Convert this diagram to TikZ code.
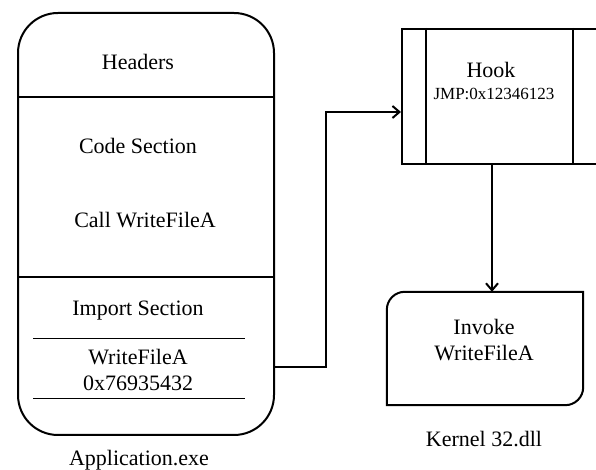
\documentclass[tikz,border=0pt]{standalone}
\usepackage{fontspec}
\setmainfont{Liberation Serif}
\usetikzlibrary{arrows.meta}

\tikzset{
  box/.style={draw, line width=2pt},
  thin/.style={line width=0.9pt},
  lbl/.style={inner sep=0pt, font=\fontsize{22}{26}\selectfont, align=center},
  small/.style={inner sep=0pt, font=\fontsize{17}{20}\selectfont},
  link/.style={line width=2pt, -{Straight Barb[length=7pt,width=12pt,line width=2pt]}},
}

\begin{document}
\begin{tikzpicture}[x=1pt,y=1pt]
  \useasboundingbox (0,0) rectangle (596,470);
  \fill[white] (0,0) rectangle (596,470);
  \clip (0,0) rectangle (596,470);

  % executable image with its sections
  \node[box, rounded corners=40pt, minimum width=256pt, minimum height=422pt] (app) at (146,246) {};
  \coordinate (hdrsep) at (0,373);
  \coordinate (impsep) at (0,193);
  \draw[box] (app.west |- hdrsep) -- (app.east |- hdrsep);
  \draw[box] (app.west |- impsep) -- (app.east |- impsep);

  \node[lbl] (headers) at (138,408) {Headers};
  \node[lbl] (code) at (138,324) {Code Section};
  \node[lbl] (call) at (145,250) {Call WriteFileA};
  \node[lbl] (import) at (138,159) {Import Section};
  \node[lbl] (entry) at (138,100) {WriteFileA\\0x76935432};
  \coordinate (ruleA) at (33,132);
  \coordinate (ruleAe) at (245,132);
  \coordinate (ruleB) at (33,72);
  \coordinate (ruleBe) at (245,72);
  \draw[thin] (ruleA) -- (ruleAe);
  \draw[thin] (ruleB) -- (ruleBe);
  \node[lbl] (appname) at (139,10) {Application.exe};

  % hook stub
  \node[box, minimum width=218pt, minimum height=135pt] (hook) at (511,373.5) {};
  \coordinate (barL) at (426,0);
  \coordinate (barR) at (573,0);
  \draw[box] (hook.north -| barL) -- (hook.south -| barL);
  \draw[box] (hook.north -| barR) -- (hook.south -| barR);
  \node[lbl] (hooktxt) at (491,400) {Hook};
  \node[small] (jmp) at (494,376) {JMP:0x12346123};

  % kernel32 routine
  \node[minimum width=196pt, minimum height=113pt, inner sep=0pt] (inv) at (485,121.5) {};
  \draw[box] (inv.south west) -- ([yshift=-18pt]inv.north west)
    arc[start angle=180, end angle=90, radius=18pt] -- (inv.north east)
    -- ([yshift=18pt]inv.south east)
    arc[start angle=0, end angle=-90, radius=18pt] -- cycle;
  \node[lbl] (invtxt) at (484,130) {Invoke\\WriteFileA};
  \node[lbl] (kname) at (484,31) {Kernel 32.dll};

  % connectors
  \coordinate (src) at (0,103);
  \coordinate (bend) at (326,358);
  \coordinate (drop) at (492,0);
  \draw[link] (app.east |- src) -| (bend) -- (hook.west |- bend);
  \draw[link] (hook.south -| drop) -- (inv.north -| drop);
\end{tikzpicture}
\end{document}
